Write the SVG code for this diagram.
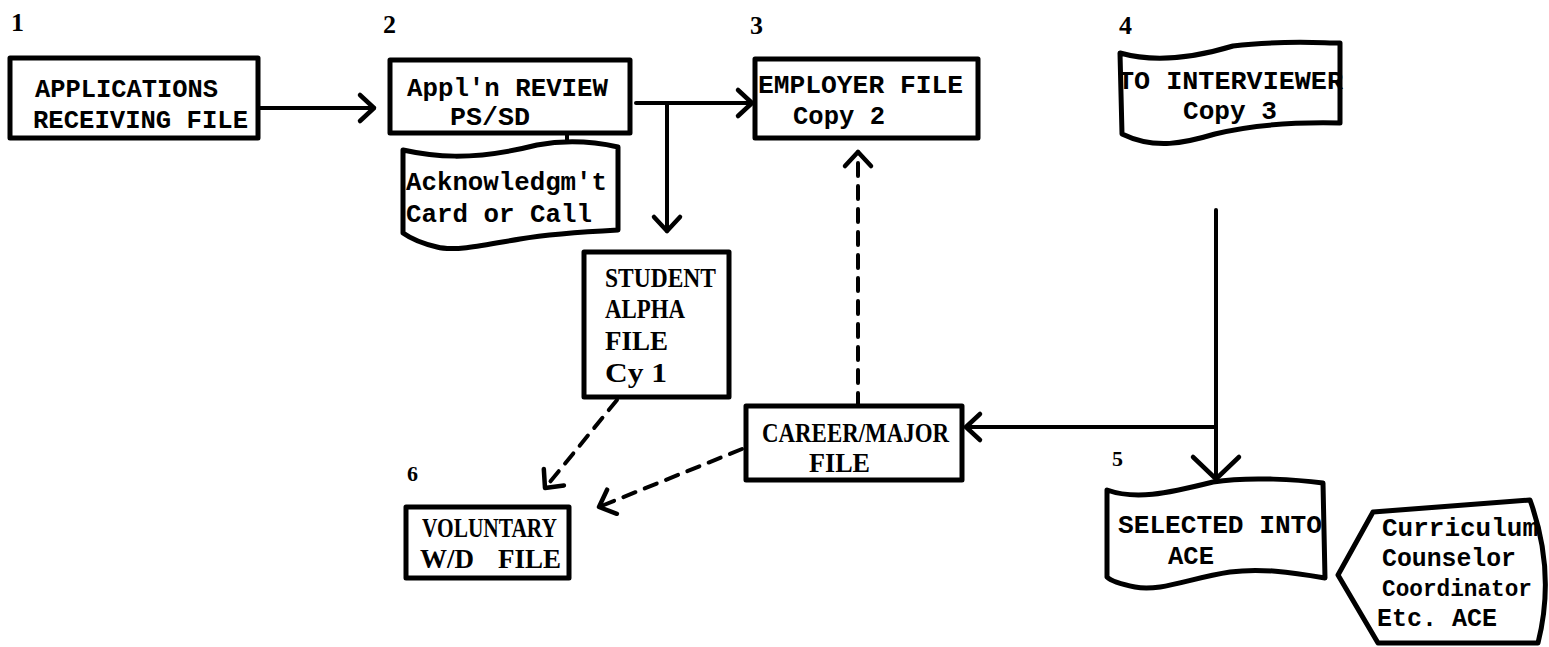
<svg xmlns="http://www.w3.org/2000/svg" width="1549" height="647" viewBox="0 0 1549 647">
<style>
.box{fill:#fff;stroke:#000;stroke-width:5;stroke-linejoin:round}
.conn{fill:none;stroke:#000;stroke-width:4;stroke-linecap:round}
.dash{stroke-dasharray:13 10}
.mono{font-family:"Liberation Mono","DejaVu Sans Mono",monospace;font-size:26px;font-weight:bold;fill:#000}
.ser{font-family:"Liberation Serif","DejaVu Serif",serif;font-weight:bold;font-size:27px;fill:#000}
.num{font-family:"Liberation Serif","DejaVu Serif",serif;font-weight:bold;font-size:26px;fill:#000}
.num2{font-family:"Liberation Serif","DejaVu Serif",serif;font-weight:bold;font-size:22px;fill:#000}
</style>
<defs>
<marker id="arr" markerUnits="userSpaceOnUse" markerWidth="40" markerHeight="40" viewBox="-20 -20 40 40" refX="0" refY="0" orient="auto">
<path d="M-14,-13 L0,0 L-14,13" fill="none" stroke="#000" stroke-width="4.5" stroke-linecap="round" stroke-linejoin="round" stroke-dasharray="none"/>
</marker>
<marker id="arrL" markerUnits="userSpaceOnUse" markerWidth="60" markerHeight="60" viewBox="-30 -30 60 60" refX="0" refY="0" orient="auto">
<path d="M-22,-23 L0,0 L-22,23" fill="none" stroke="#000" stroke-width="4.5" stroke-linecap="round" stroke-linejoin="round" stroke-dasharray="none"/>
</marker>
</defs>

<g id="labels">
<text class="num" x="11" y="31">1</text>
<text class="num" x="383" y="33">2</text>
<text class="num" x="750" y="34">3</text>
<text class="num" x="1119" y="34">4</text>
<text class="num2" x="1112" y="466">5</text>
<text class="num2" x="407" y="481">6</text>
</g>

<g id="connectors">
<path class="conn" d="M258,108 L374,108" marker-end="url(#arr)"/>
<path class="conn" d="M567,133 L567,148"/>
<path class="conn" d="M636,103 L752,103" marker-end="url(#arr)"/>
<path class="conn" d="M667,103 L667,231" marker-end="url(#arr)"/>
<path class="conn" d="M1216,210 L1216,479" marker-end="url(#arrL)"/>
<path class="conn" d="M1216,427 L966,427" marker-end="url(#arr)"/>
<path class="conn dash" d="M858,406 L858,152" marker-end="url(#arr)"/>
<path class="conn dash" d="M617,400 L545,488" marker-end="url(#arr)"/>
<path class="conn dash" d="M742,449 L599,507" marker-end="url(#arr)"/>
</g>

<g id="n1">
<rect class="box" x="10" y="58" width="248" height="80"/>
<text class="mono" x="35" y="97" textLength="183" lengthAdjust="spacingAndGlyphs">APPLICATIONS</text>
<text class="mono" x="33" y="128" textLength="215" lengthAdjust="spacingAndGlyphs">RECEIVING FILE</text>
</g>

<g id="n2">
<rect class="box" x="390" y="60" width="240" height="73"/>
<text class="mono" x="407" y="96" textLength="201" lengthAdjust="spacingAndGlyphs">Appl'n REVIEW</text>
<text class="mono" x="450" y="125" textLength="80" lengthAdjust="spacingAndGlyphs">PS/SD</text>
</g>

<g id="n2b">
<path class="box" d="M403,150 C430,156 470,162 537,145 C570,139 600,143 618,147 L618,230 C580,232 550,234 520,239 C490,244 455,252 437,247 C420,243 410,238 403,233 Z"/>
<text class="mono" x="406" y="190" textLength="201" lengthAdjust="spacingAndGlyphs">Acknowledgm't</text>
<text class="mono" x="406" y="222" textLength="186" lengthAdjust="spacingAndGlyphs">Card or Call</text>
</g>

<g id="n3">
<rect class="box" x="755" y="59" width="223" height="79"/>
<text class="mono" x="758" y="93" textLength="205" lengthAdjust="spacingAndGlyphs">EMPLOYER FILE</text>
<text class="mono" x="793" y="124" textLength="92" lengthAdjust="spacingAndGlyphs">Copy 2</text>
</g>

<g id="n4">
<path class="box" d="M1120,53 C1145,60 1180,62 1233,46 C1280,40 1320,43 1340,43 L1340,123 C1295,122 1255,124 1215,134 C1185,143 1155,150 1122,134 Z"/>
<text class="mono" x="1118" y="89" textLength="225" lengthAdjust="spacingAndGlyphs">TO INTERVIEWER</text>
<text class="mono" x="1183" y="119" textLength="94" lengthAdjust="spacingAndGlyphs">Copy 3</text>
</g>

<g id="n5">
<path class="box" d="M1107,490 C1135,500 1165,494 1213,482 C1250,476 1300,480 1323,483 L1325,578 C1290,572 1260,568 1230,572 C1190,578 1160,592 1135,587 C1120,584 1110,580 1107,577 Z"/>
<text class="mono" x="1118" y="533" textLength="204" lengthAdjust="spacingAndGlyphs">SELECTED INTO</text>
<text class="mono" x="1168" y="564" textLength="46" lengthAdjust="spacingAndGlyphs">ACE</text>
</g>

<g id="n7">
<path class="box" d="M1338,575 L1373,512 L1530,500 Q1556,572 1538,643 L1378,643 Z"/>
<text class="mono" x="1382" y="536" textLength="156" lengthAdjust="spacingAndGlyphs">Curriculum</text>
<text class="mono" x="1382" y="566" textLength="134" lengthAdjust="spacingAndGlyphs">Counselor</text>
<text class="mono" x="1382" y="596" style="font-size:23.5px" textLength="150" lengthAdjust="spacingAndGlyphs">Coordinator</text>
<text class="mono" x="1377" y="626" textLength="120" lengthAdjust="spacingAndGlyphs">Etc. ACE</text>
</g>

<g id="n8">
<rect class="box" x="584" y="252" width="145" height="145"/>
<text class="ser" x="605" y="287" textLength="111" lengthAdjust="spacingAndGlyphs">STUDENT</text>
<text class="ser" x="605" y="318" textLength="80" lengthAdjust="spacingAndGlyphs">ALPHA</text>
<text class="ser" x="605" y="350" textLength="63" lengthAdjust="spacingAndGlyphs">FILE</text>
<text class="ser" x="605" y="382" textLength="62" lengthAdjust="spacingAndGlyphs">Cy 1</text>
</g>

<g id="n9">
<rect class="box" x="746" y="406" width="216" height="74"/>
<text class="ser" x="762" y="442" textLength="187" lengthAdjust="spacingAndGlyphs">CAREER/MAJOR</text>
<text class="ser" x="809" y="472" textLength="61" lengthAdjust="spacingAndGlyphs">FILE</text>
</g>

<g id="n6">
<rect class="box" x="406" y="507" width="163" height="71"/>
<text class="ser" x="422" y="537" textLength="135" lengthAdjust="spacingAndGlyphs">VOLUNTARY</text>
<text class="ser" x="420" y="568">W/D <tspan x="498">FILE</tspan></text>
</g>
</svg>
